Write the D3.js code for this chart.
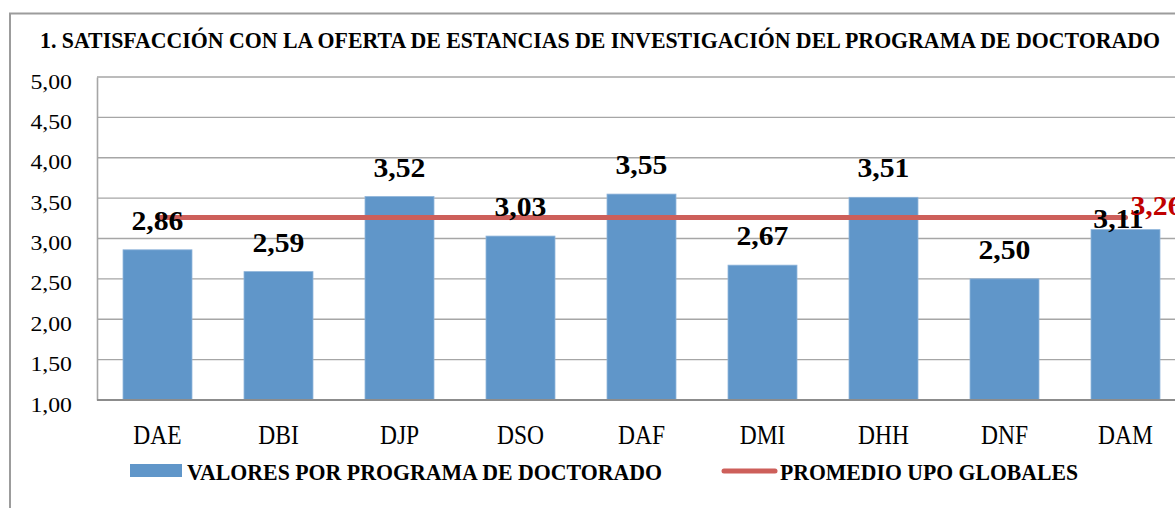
<!DOCTYPE html>
<html>
<head>
<meta charset="utf-8">
<script src="https://cdn.jsdelivr.net/npm/d3@7"></script>
<style>
  html, body { margin: 0; padding: 0; background: #ffffff; }
  svg { display: block; }
  text { font-family: 'Liberation Serif', 'Times New Roman', serif; }
</style>
</head>
<body>
<svg id="chart" width="1175" height="508"></svg>
<script>
const title = "1. SATISFACCIÓN CON LA OFERTA DE ESTANCIAS DE INVESTIGACIÓN DEL PROGRAMA DE DOCTORADO";
const categories = ["DAE", "DBI", "DJP", "DSO", "DAF", "DMI", "DHH", "DNF", "DAM"];
const programValues = [2.86, 2.59, 3.52, 3.03, 3.55, 2.67, 3.51, 2.50, 3.11];
const globalAverage = [3.26, 3.26, 3.26, 3.26, 3.26, 3.26, 3.26, 3.26, 3.26];
const yTicks = [1.0, 1.5, 2.0, 2.5, 3.0, 3.5, 4.0, 4.5, 5.0];
const seriesNames = ["VALORES POR PROGRAMA DE DOCTORADO", "PROMEDIO UPO GLOBALES"];

const fmt = v => d3.format(".2f")(v).replace(".", ",");

const svg = d3.select("#chart");
const W = 1175, H = 508;
const plot = { left: 97, top: 77, bottom: 400, right: 1186 };

const BLUE = "#6096c9";
const RED = "#cd5f5a";
const GRID = "#a6a6a6";

function scaleX(sel, f) {
  sel.each(function () {
    const L = this.getComputedTextLength();
    this.setAttribute("textLength", L * f);
    this.setAttribute("lengthAdjust", "spacingAndGlyphs");
  });
}
function fitWidth(sel, w) {
  sel.each(function () {
    this.setAttribute("textLength", w);
    this.setAttribute("lengthAdjust", "spacingAndGlyphs");
  });
}

// outer chart border
svg.append("path")
  .attr("d", `M10,${H + 2} L10,13.5 L${W + 2},13.5`)
  .attr("fill", "none").attr("stroke", "#9c9c9c").attr("stroke-width", 2);

// title
svg.append("text")
  .attr("x", 40).attr("y", 48)
  .attr("font-size", 24).attr("font-weight", "bold").attr("fill", "#000")
  .text(title)
  .call(fitWidth, 1120);

const x = d3.scaleBand().domain(categories).range([plot.left, plot.right])
  .paddingInner(0.43).paddingOuter(0.215);
const y = d3.scaleLinear().domain([1, 5]).range([plot.bottom, plot.top]);

// gridlines
svg.append("g").selectAll("line").data(yTicks.filter(t => t > 1)).join("line")
  .attr("x1", plot.left).attr("x2", W + 5)
  .attr("y1", d => y(d)).attr("y2", d => y(d))
  .attr("stroke", GRID).attr("stroke-width", 1.4);

// y axis
const yAxis = d3.axisLeft(y).tickValues(yTicks).tickFormat(fmt).tickSize(0).tickPadding(0);
const gy = svg.append("g").attr("transform", `translate(${plot.left},0)`).call(yAxis);
gy.select(".domain").attr("stroke", GRID).attr("stroke-width", 1.6);
gy.selectAll(".tick text")
  .attr("x", 72 - plot.left).attr("dy", "0.5em")
  .attr("font-size", 22).attr("fill", "#000")
  .attr("font-family", "'Liberation Serif', serif")
  .attr("text-anchor", "end")
  .call(scaleX, 1.08);

// bars
svg.append("g").selectAll("rect").data(categories).join("rect")
  .attr("x", d => x(d))
  .attr("width", x.bandwidth())
  .attr("y", (d, i) => y(programValues[i]))
  .attr("height", (d, i) => y(1) - y(programValues[i]))
  .attr("fill", BLUE)
  .attr("stroke", "#8fb4da").attr("stroke-width", 0.8);

// x axis
const xAxis = d3.axisBottom(x).tickSize(0).tickPadding(0);
const gx = svg.append("g").attr("transform", `translate(0,${plot.bottom})`).call(xAxis);
gx.select(".domain").attr("d", `M${plot.left},0H${W + 5}`).attr("stroke", "#8c8c8c").attr("stroke-width", 2);
gx.selectAll(".tick text")
  .attr("y", 44).attr("dy", 0)
  .attr("font-size", 27).attr("fill", "#000")
  .attr("font-family", "'Liberation Serif', serif")
  .call(scaleX, 0.87);

// average line
const line = d3.line()
  .x((d, i) => x(categories[i]) + x.bandwidth() / 2)
  .y(d => y(d));
svg.append("path").datum(globalAverage)
  .attr("d", line)
  .attr("fill", "none").attr("stroke", RED).attr("stroke-width", 5)
  .attr("stroke-linecap", "round");

// bar value labels
svg.append("g").selectAll("text").data(categories).join("text")
  .attr("x", (d, i) => x(d) + x.bandwidth() / 2 - (d === "DAM" ? 7 : 0))
  .attr("y", (d, i) => y(programValues[i]) - (d === "DAM" ? 2 : 20))
  .attr("text-anchor", "middle")
  .attr("font-size", 27).attr("font-weight", "bold").attr("fill", "#000")
  .text((d, i) => fmt(programValues[i]))
  .call(scaleX, 1.1);

// average value label (last point)
const lastI = categories.length - 1;
svg.append("text")
  .attr("x", x(categories[lastI]) + x.bandwidth() / 2 + 5)
  .attr("y", y(globalAverage[lastI]) - 3)
  .attr("font-size", 27).attr("font-weight", "bold").attr("fill", "#c00000")
  .text(fmt(globalAverage[lastI]))
  .call(scaleX, 1.1);

// legend
const lg = svg.append("g");
lg.append("rect").attr("x", 130).attr("y", 464).attr("width", 52).attr("height", 13).attr("fill", BLUE);
lg.append("text").attr("x", 187).attr("y", 480)
  .attr("font-size", 24).attr("font-weight", "bold").attr("fill", "#000")
  .text(seriesNames[0]).call(fitWidth, 475);
lg.append("line").attr("x1", 724).attr("x2", 775).attr("y1", 471).attr("y2", 471)
  .attr("stroke", RED).attr("stroke-width", 5).attr("stroke-linecap", "round");
lg.append("text").attr("x", 780).attr("y", 480)
  .attr("font-size", 24).attr("font-weight", "bold").attr("fill", "#000")
  .text(seriesNames[1]).call(fitWidth, 298);
</script>
</body>
</html>
